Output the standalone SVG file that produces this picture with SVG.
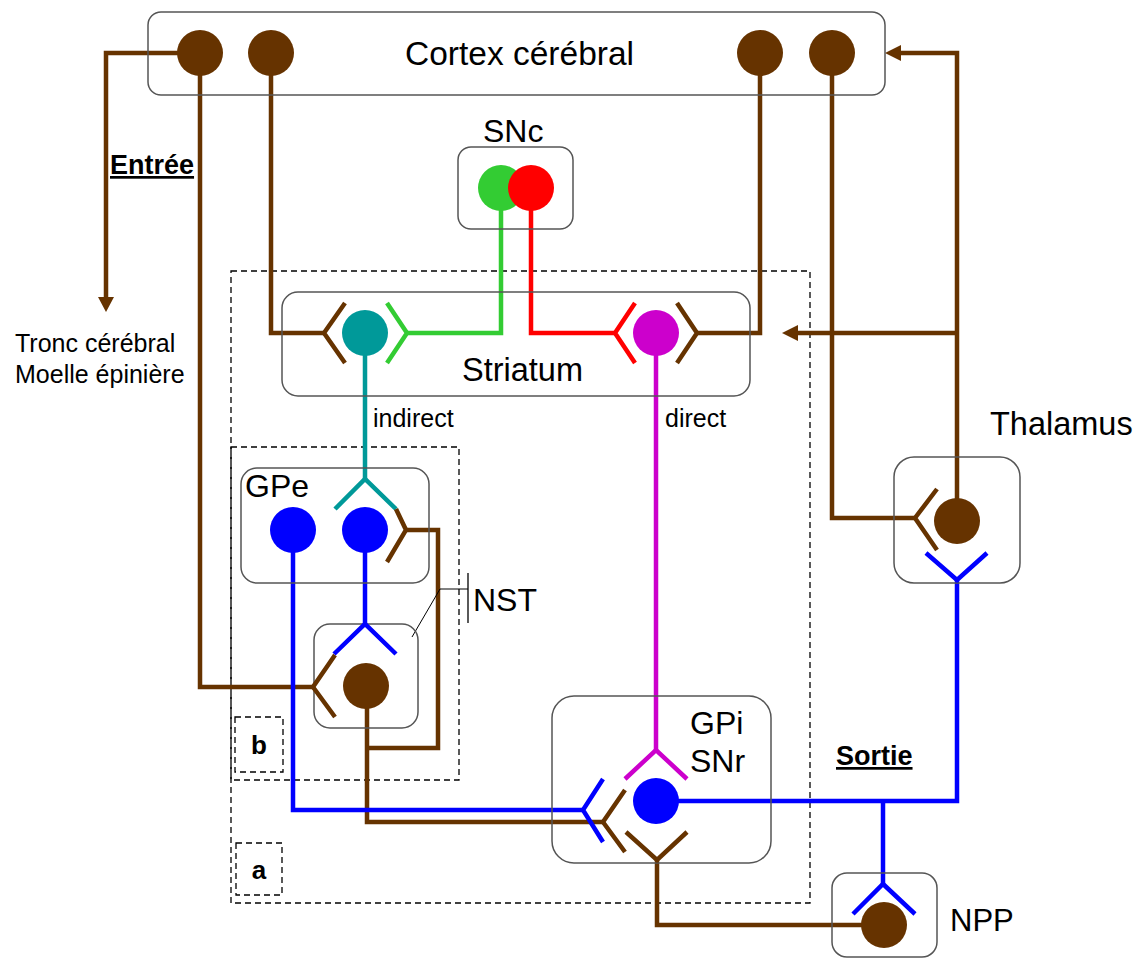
<svg xmlns="http://www.w3.org/2000/svg" width="1142" height="959" viewBox="0 0 1142 959">
<style>
.box{fill:none;stroke:#555;stroke-width:1.5}
.dash{fill:none;stroke:#000;stroke-width:1.3;stroke-dasharray:6,4}
.br{fill:none;stroke:#663300;stroke-width:4.5;stroke-linejoin:miter}
.bl{fill:none;stroke:#0000FF;stroke-width:4.5}
.gr{fill:none;stroke:#33CC33;stroke-width:4.5}
.rd{fill:none;stroke:#FF0000;stroke-width:4.5}
.tl{fill:none;stroke:#009999;stroke-width:4.5}
.mg{fill:none;stroke:#CC00CC;stroke-width:4.5}
.t{font-family:"Liberation Sans",Arial,sans-serif;fill:#000}
.big{font-size:32.5px}
.mid{font-size:32px}
.sm{font-size:25px}
.ul{font-size:27px;font-weight:bold;text-decoration:underline}
.lt{font-size:26px;font-weight:bold}
</style>
<rect width="1142" height="959" fill="#fff"/>

<g id="region-a">
<rect class="dash" x="231" y="271" width="579" height="632"/>
<rect class="dash" x="236" y="843" width="46" height="52"/>
<text class="t lt" x="259" y="879" text-anchor="middle">a</text>
</g>
<g id="region-b">
<rect class="dash" x="231" y="447" width="228" height="333"/>
<rect class="dash" x="235" y="717" width="48" height="55"/>
<text class="t lt" x="259" y="754" text-anchor="middle">b</text>
</g>

<g id="connectors">
<polyline class="br" points="200,53 106,53 106,298"/>
<polygon points="98,297 114,297 106,312" fill="#663300"/>
<polyline class="br" points="200,53 200,687 313,687"/>
<polyline class="br" points="271,53 271,333 324,333"/>
<polyline class="br" points="760,53 760,333 697,333"/>
<polyline class="br" points="832,53 832,518 915,518"/>
<polyline class="br" points="957,521 957,53 900,53"/>
<polygon points="885,53 901,45 901,61" fill="#663300"/>
<polyline class="br" points="957,333 797,333"/>
<polygon points="782,333 798,325 798,341" fill="#663300"/>
<polyline class="br" points="367,687 367,822 603,822"/>
<polyline class="br" points="367,748 438,748 438,530 406,530"/>
<polyline class="br" points="657,860 657,925 884,925"/>
<polyline class="bl" points="293,530 293,810 583,810"/>
<polyline class="bl" points="365,530 365,624"/>
<polyline class="bl" points="656,801 957,801 957,580"/>
<polyline class="bl" points="883,801 883,884"/>
<polyline class="tl" points="365,333 365,479"/>
<polyline class="mg" points="656,333 656,750"/>
<polyline class="gr" points="501,188 501,333 407,333"/>
<polyline class="rd" points="531,188 531,333 615,333"/>
<polyline points="412,637 440,589 468,589" fill="none" stroke="#000" stroke-width="1"/>
<line x1="468" y1="573" x2="468" y2="623" stroke="#000" stroke-width="1.3"/>
</g>

<g id="cortex">
<rect class="box" x="148" y="12" width="737" height="83" rx="13"/>
<circle cx="200" cy="53" r="23" fill="#663300"/>
<circle cx="271" cy="53" r="23" fill="#663300"/>
<circle cx="760" cy="53" r="23" fill="#663300"/>
<circle cx="832" cy="53" r="23" fill="#663300"/>
<text class="t" x="405" y="65" font-size="33.5">Cortex cérébral</text>
</g>

<g id="snc">
<rect class="box" x="458" y="147" width="115" height="82" rx="13"/>
<circle cx="501" cy="188" r="23" fill="#33CC33"/>
<circle cx="531" cy="188" r="23" fill="#FF0000"/>
<text class="t mid" x="483" y="142">SNc</text>
</g>

<g id="striatum">
<rect class="box" x="282" y="292" width="468" height="104" rx="16"/>
<polyline class="br" points="345,303 324,333 345,363"/>
<circle cx="365" cy="333" r="23" fill="#009999"/>
<polyline class="gr" points="387,303 407,333 387,363"/>
<polyline class="rd" points="635,303 615,333 635,363"/>
<circle cx="656" cy="333" r="23" fill="#CC00CC"/>
<polyline class="br" points="677,303 697,333 677,363"/>
<text class="t big" x="462" y="381">Striatum</text>
<text class="t sm" x="373" y="427">indirect</text>
<text class="t sm" x="665" y="427">direct</text>
</g>

<g id="gpe">
<rect class="box" x="241" y="468" width="188" height="115" rx="16"/>
<circle cx="293" cy="530" r="23" fill="#0000FF"/>
<circle cx="365" cy="530" r="23" fill="#0000FF"/>
<polyline class="tl" points="335,509 365,479 396,509"/>
<polyline class="br" points="396,509 406,530 387,562"/>
<text class="t mid" x="245" y="497">GPe</text>
</g>

<g id="nst">
<rect class="box" x="314" y="624" width="104" height="104" rx="16"/>
<polyline class="bl" points="334,654 365,624 396,654"/>
<polyline class="br" points="335,655 313,687 335,717"/>
<circle cx="366" cy="686" r="23" fill="#663300"/>
<text class="t mid" x="473" y="611">NST</text>
</g>

<g id="gpi">
<rect class="box" x="552" y="696" width="219" height="167" rx="22"/>
<polyline class="mg" points="625,779 656,750 687,779"/>
<circle cx="656" cy="801" r="23" fill="#0000FF"/>
<polyline class="bl" points="603,779 583,810 603,842"/>
<polyline class="br" points="625,790 603,822 625,852"/>
<polyline class="br" points="626,832 657,860 687,832"/>
<text class="t mid" x="690" y="734">GPi</text>
<text class="t mid" x="690" y="772">SNr</text>
</g>

<g id="thalamus">
<rect class="box" x="894" y="457" width="126" height="126" rx="20"/>
<circle cx="957" cy="521" r="23" fill="#663300"/>
<polyline class="br" points="937,489 915,518 937,550"/>
<polyline class="bl" points="926,553 957,580 987,553"/>
<text class="t big" x="990" y="435">Thalamus</text>
</g>

<g id="npp">
<rect class="box" x="832" y="873" width="105" height="84" rx="15"/>
<polyline class="bl" points="853,914 883,884 915,914"/>
<circle cx="884" cy="925" r="23" fill="#663300"/>
<text class="t" x="950" y="931" font-size="31">NPP</text>
</g>

<g id="labels">
<text class="t" x="15" y="352" font-size="25">Tronc cérébral</text>
<text class="t" x="15" y="383" font-size="25">Moelle épinière</text>
<text class="t ul" x="110" y="174">Entrée</text>
<text class="t ul" x="836" y="765">Sortie</text>
</g>
</svg>
